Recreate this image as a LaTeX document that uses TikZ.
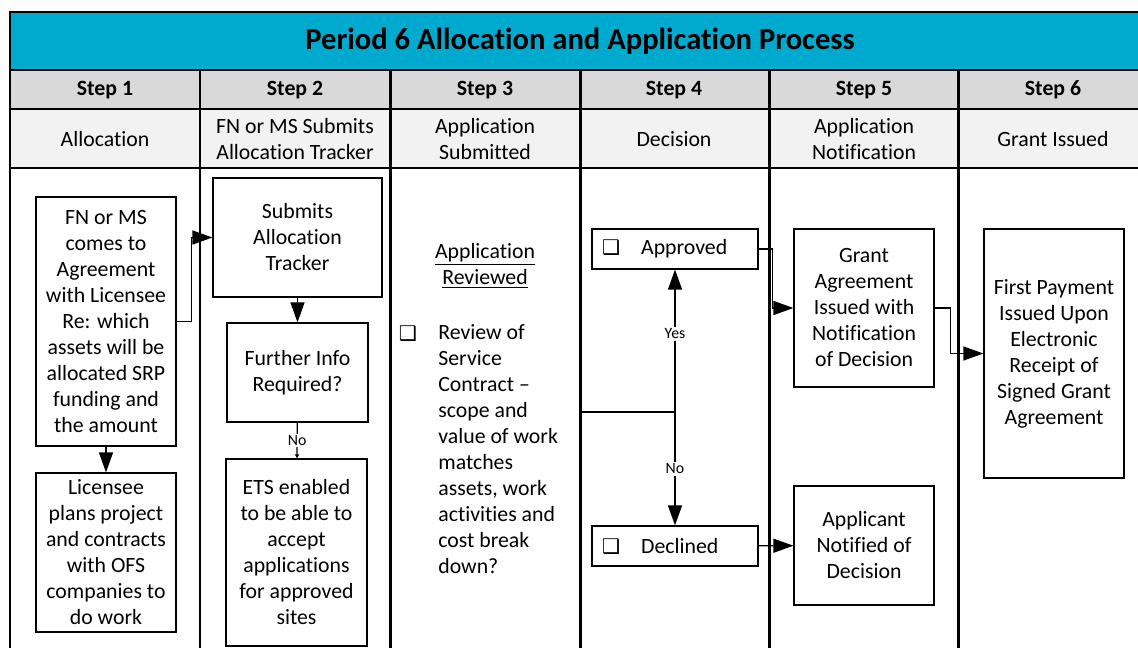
\documentclass[tikz,border=0pt]{standalone}
\usepackage{fontspec}
\setmainfont{Carlito}[Ligatures={TeX,NoCommon}]
\newfontfamily\symfont{DejaVu Sans}
\usetikzlibrary{arrows.meta}
\definecolor{titleblue}{HTML}{00A9CE}
\definecolor{stepgray}{HTML}{D9D9D9}
\definecolor{subgray}{HTML}{F2F2F2}
\newcommand{\chk}{{\symfont\fontsize{11.5}{11.5}\selectfont ❑}}

\begin{document}
\begin{tikzpicture}[x=0.02cm,y=-0.02cm,
  font=\fontsize{12.4}{14.8}\selectfont,
  grid/.style={line width=1.7pt},
  box/.style={draw,line width=0.7pt,align=center,inner sep=2pt},
  chkbox/.style={draw,line width=0.7pt,minimum width=3.32cm,minimum height=0.8cm,
    text width=2.92cm,inner xsep=0.2cm,align=left},
  arr/.style={line width=0.7pt,-{Triangle[length=0.4cm,width=0.28cm]}},
  tinyarr/.style={line width=0.7pt,-{Triangle[length=0.08cm,width=0.08cm]}},
  lbl/.style={fill=white,inner sep=1pt,font=\fontsize{9}{10}\selectfont},
  head/.style={font=\fontsize{12.4}{14.8}\selectfont\bfseries},
  sub/.style={align=center}]
\useasboundingbox (0,0) rectangle (1138,648);
\clip (0,0) rectangle (1138,648);

% table frame
\fill[titleblue] (10,12) rectangle (1150,70);
\fill[stepgray] (10,70) rectangle (1150,109);
\fill[subgray] (10,109) rectangle (1150,168);
\draw[grid] (10,12) rectangle (1150,660);
\foreach \y in {70,109,168} \draw[grid] (10,\y) -- (1150,\y);
\foreach \x in {200,390,580,769,958} \draw[grid] (\x,70) -- (\x,660);

% headings
\node[font=\fontsize{17.4}{20}\selectfont\bfseries] (title) at (580,41) {Period 6 Allocation and Application Process};
\foreach \x/\n in {105/1,295/2,485/3,674/4,864/5,1053/6}
  \node[head] (step\n) at (\x,90) {Step \n};
\node[sub] (sub1) at (105,139) {Allocation};
\node[sub] (sub2) at (295,139) {FN or MS Submits\\Allocation Tracker};
\node[sub] (sub3) at (485,139) {Application\\Submitted};
\node[sub] (sub4) at (674,139) {Decision};
\node[sub] (sub5) at (864,139) {Application\\Notification};
\node[sub] (sub6) at (1053,139) {Grant Issued};

% step 1
\node[box,minimum width=2.8cm,minimum height=4.98cm] (agree) at (106,321.5)
  {FN or MS\\comes to\\Agreement\\with Licensee\\Re: which\\assets will be\\allocated SRP\\funding and\\the amount};
\node[box,minimum width=2.8cm,minimum height=3.18cm] (plans) at (106,552.5)
  {Licensee\\plans project\\and contracts\\with OFS\\companies to\\do work};

% step 2
\node[box,minimum width=3.38cm,minimum height=2.38cm] (tracker) at (297.5,237.5)
  {Submits\\Allocation\\Tracker};
\node[box,minimum width=2.82cm,minimum height=1.98cm] (further) at (297.5,372.5)
  {Further Info\\Required?};
\node[box,minimum width=2.82cm,minimum height=3.74cm] (ets) at (296.5,552.5)
  {ETS enabled\\to be able to\\accept\\applications\\for approved\\sites};

% step 3
\node[align=center] (reviewed) at (485,266) {\underline{Application}\\\underline{Reviewed}};
\node (rvchk) at (408,334) {\chk};
\node[anchor=north west,align=left,inner sep=0pt] (review) at (438,324)
  {Review of\\Service\\Contract –\\scope and\\value of work\\matches\\assets, work\\activities and\\cost break\\down?};

% step 4
\node[chkbox] (approved) at (675,249) {\chk\hspace{0.42cm}Approved};
\node[chkbox] (declined) at (675,546) {\chk\hspace{0.42cm}Declined};

% step 5
\node[box,minimum width=2.8cm,minimum height=3.16cm] (grant) at (864,308)
  {Grant\\Agreement\\Issued with\\Notification\\of Decision};
\node[box,minimum width=2.8cm,minimum height=2.38cm] (applicant) at (864,545.5)
  {Applicant\\Notified of\\Decision};

% step 6
\node[box,minimum width=2.8cm,minimum height=4.98cm] (payment) at (1054,353.5)
  {First Payment\\Issued Upon\\Electronic\\Receipt of\\Signed Grant\\Agreement};

% connectors
\draw[arr] (agree) -- (plans);
\draw[arr] (agree.east) -- ++(15,0) |- (tracker.west);
\draw[arr] (tracker) -- (further);
\draw[tinyarr] (further) -- node[lbl]{No} (ets);
\coordinate (rvout) at (580,412);
\coordinate (split) at (675,412);
\draw[line width=0.7pt] (rvout) -- (split);
\draw[arr] (split) -- node[lbl,pos=0.55]{Yes} (approved);
\draw[arr] (split) -- node[lbl]{No} (declined);
\draw[arr] (approved.east) -- ++(14,0) |- (grant.west);
\draw[arr] (declined) -- (applicant);
\draw[arr] (grant.east) -- ++(16,0) |- (payment.west);
\end{tikzpicture}
\end{document}
